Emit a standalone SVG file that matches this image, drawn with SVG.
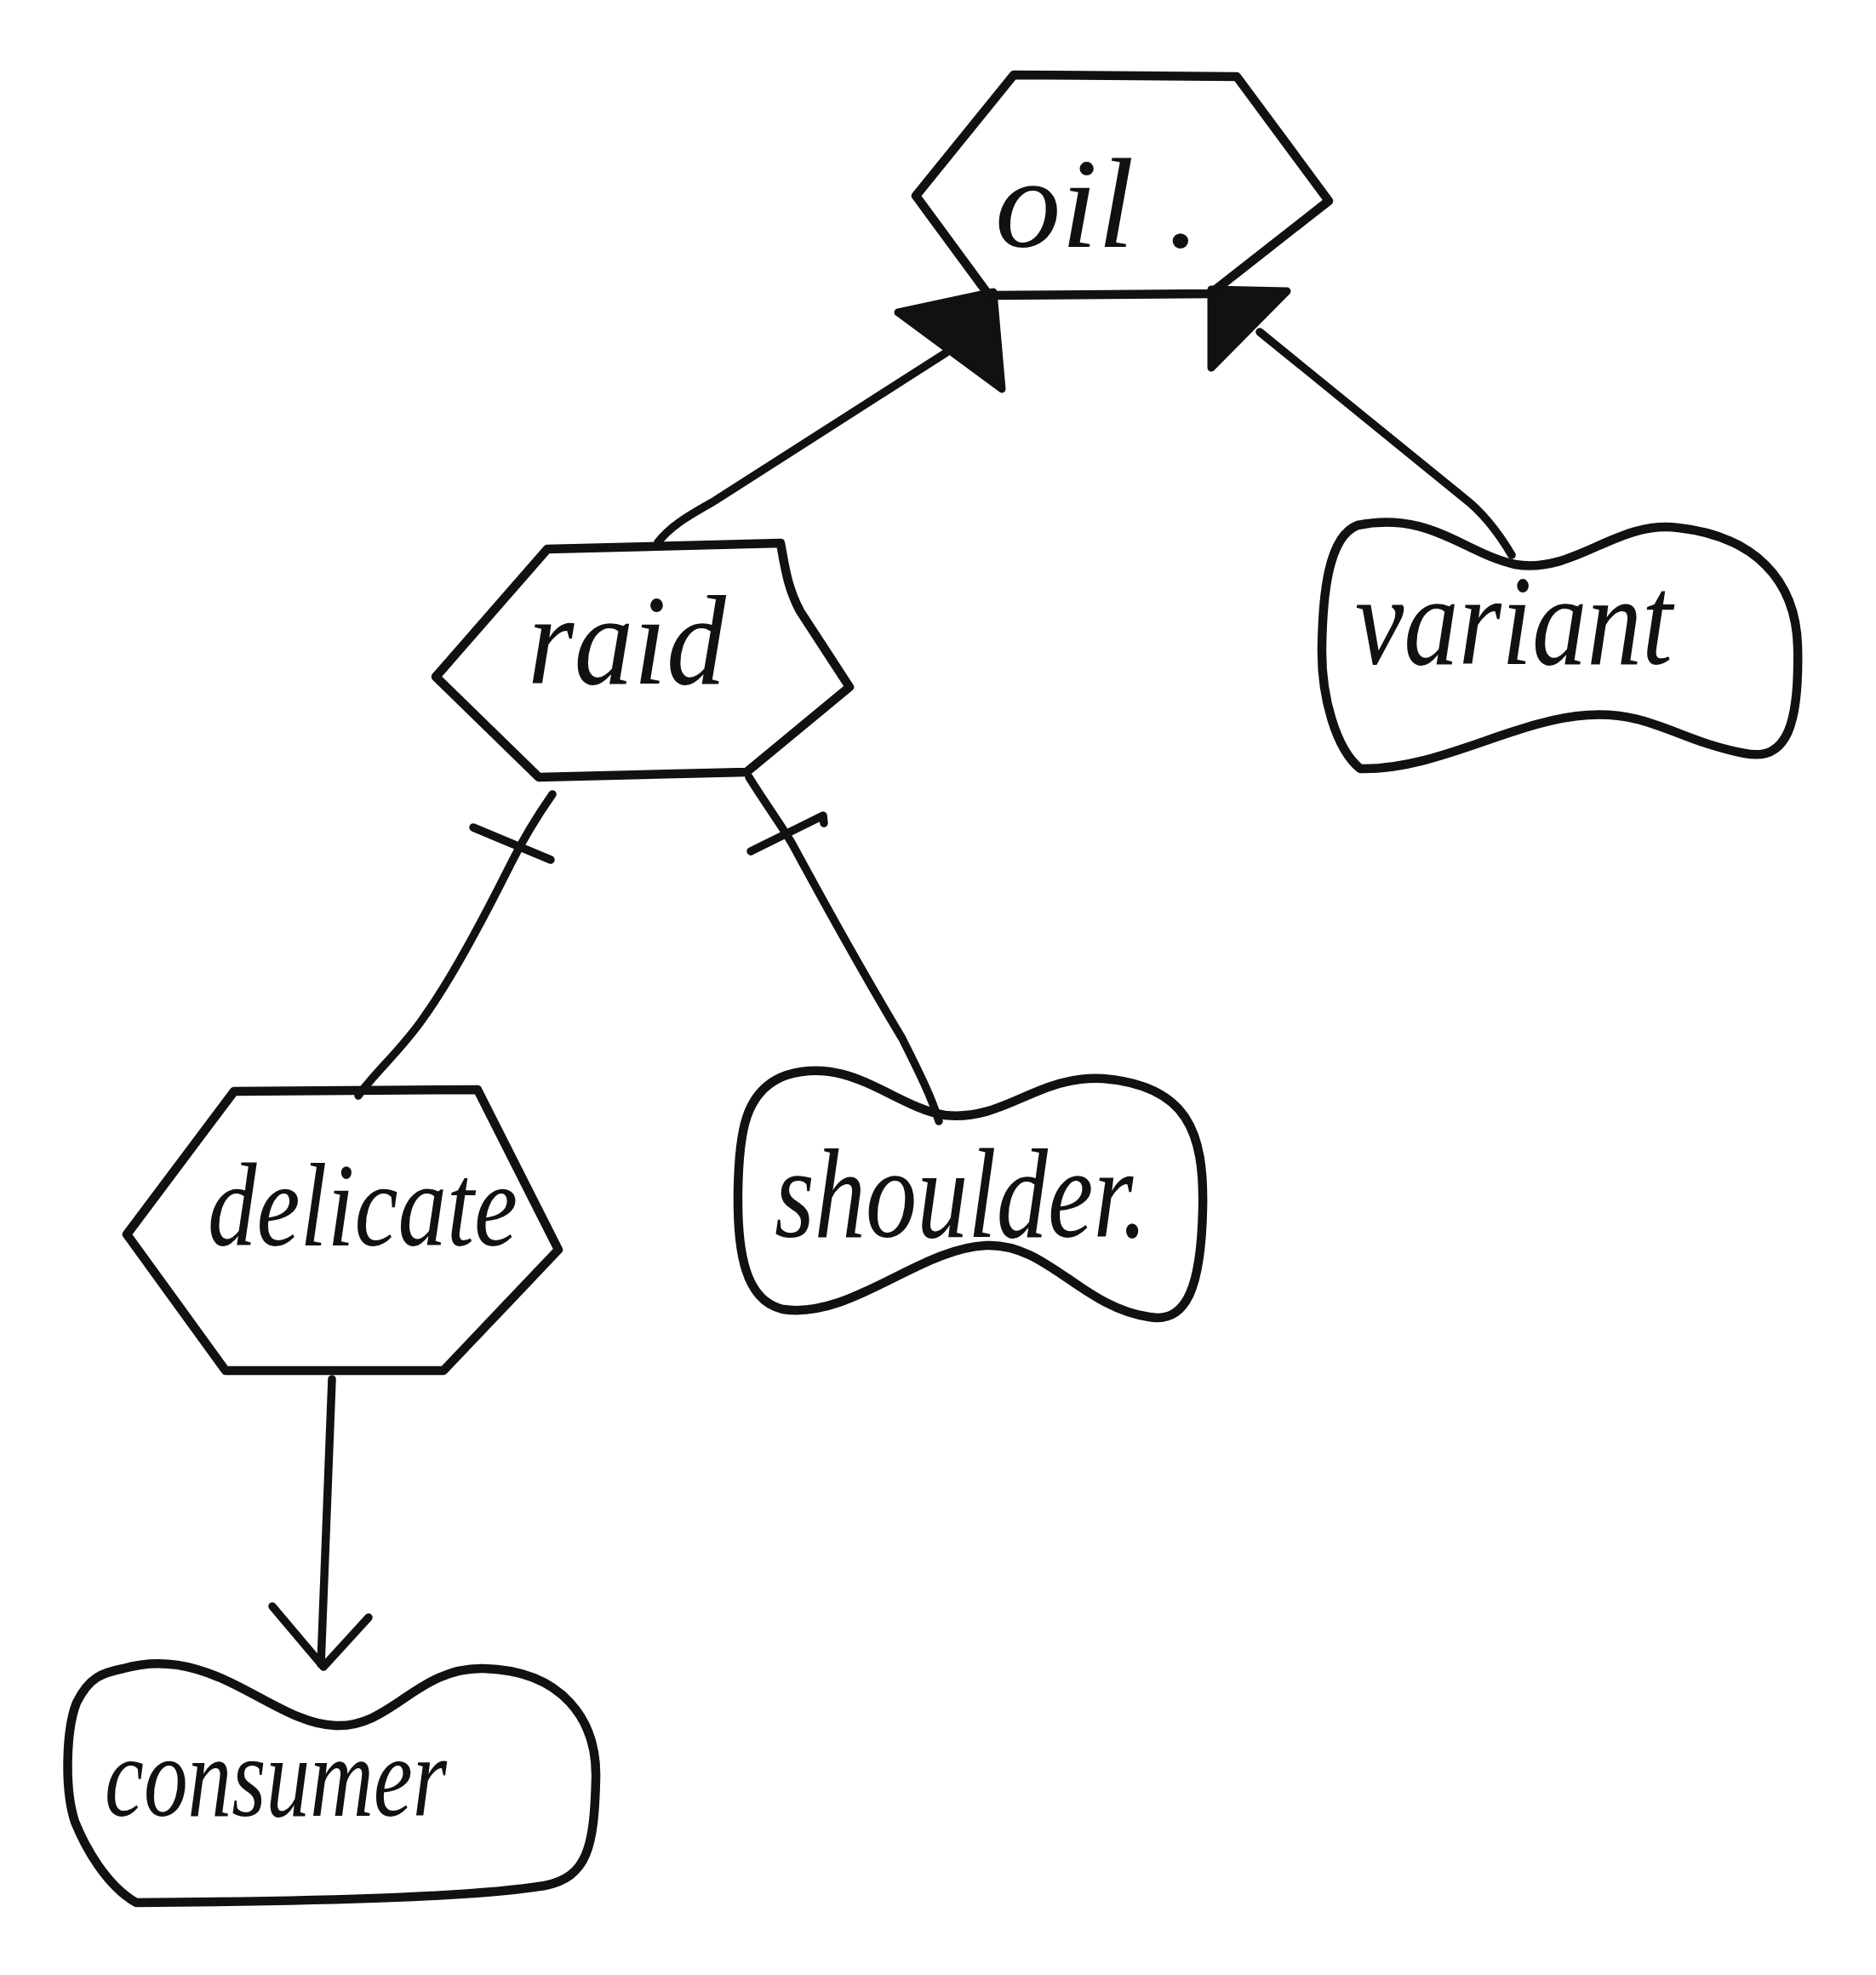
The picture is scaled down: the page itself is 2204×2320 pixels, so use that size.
<svg xmlns="http://www.w3.org/2000/svg" width="2204" height="2320" viewBox="0 0 2204 2320">
<style>
.shape{fill:none;stroke:#111;stroke-width:10.5;stroke-linejoin:round;stroke-linecap:round}
.edge{fill:none;stroke:#111;stroke-width:9.5;stroke-linejoin:round;stroke-linecap:round}
.head{fill:#111;stroke:#111;stroke-width:9;stroke-linejoin:round}
.lbl{font-family:"Liberation Serif","DejaVu Serif",serif;font-style:italic;fill:#111}
</style>
<rect width="2204" height="2320" fill="#fff"/>
<g id="connectors">
  <path class="edge" d="M 773 637 C 790 615 815 603 840 588 L 1112 414"/>
  <polygon class="head" points="1055,367 1167,343 1177,457"/>
  <path class="edge" d="M 1776 652 C 1760 625 1742 602 1720 585 L 1480 390"/>
  <polygon class="head" points="1423,340 1512,342 1423,432"/>
  <path class="edge" d="M 649 933 C 630 960 615 985 600 1015 C 570 1075 530 1150 500 1192 C 475 1230 440 1260 421 1287"/>
  <line class="edge" x1="556" y1="972" x2="647" y2="1010"/>
  <path class="edge" d="M 880 913 C 900 945 915 965 930 990 C 960 1045 1000 1120 1060 1220 C 1080 1260 1095 1290 1103 1317"/>
  <path class="edge" d="M 882 1000 L 967 958 L 968 967"/>
  <path class="edge" d="M 390 1620 L 377 1955"/>
  <polyline class="edge" points="320,1887 380,1958 433,1900"/>
</g>
<g id="node-oil">
  <polygon class="shape" points="1076,230 1191,88 1453,90 1561,236 1422,345 1162,347"/>
  <text class="lbl" x="1169" y="290" font-size="150" textLength="241" lengthAdjust="spacingAndGlyphs">oil .</text>
</g>
<g id="node-raid">
  <path class="shape" d="M 512 795 L 643 645 L 917 638 C 922 665 925 690 940 718 L 998 807 L 877 907 L 633 913 Z"/>
  <text class="lbl" x="620" y="803" font-size="150" textLength="233" lengthAdjust="spacingAndGlyphs">raid</text>
</g>
<g id="node-variant">
  <path class="shape" d="M 1595 617 C 1680 600 1720 650 1780 663 C 1850 675 1900 610 1972 620 C 2060 630 2110 680 2112 760 C 2114 850 2100 895 2050 885 C 1970 870 1940 835 1865 840 C 1780 845 1690 905 1598 903 C 1570 880 1552 820 1553 760 C 1554 700 1560 630 1595 617 Z"/>
  <text class="lbl" x="1592" y="780" font-size="150" textLength="373" lengthAdjust="spacingAndGlyphs">variant</text>
</g>
<g id="node-delicate">
  <polygon class="shape" points="149,1450 275,1282 561,1280 656,1468 521,1610 265,1610"/>
  <text class="lbl" x="244" y="1463" font-size="140" textLength="364" lengthAdjust="spacingAndGlyphs">delicate</text>
</g>
<g id="node-shoulder">
  <path class="shape" d="M 924 1263 C 1000 1240 1050 1300 1110 1310 C 1180 1318 1220 1262 1296 1267 C 1395 1275 1415 1330 1413 1420 C 1411 1510 1395 1555 1350 1547 C 1270 1535 1230 1460 1159 1463 C 1080 1466 1000 1550 920 1538 C 875 1528 866 1470 867 1400 C 868 1330 875 1280 924 1263 Z"/>
  <text class="lbl" x="910" y="1453" font-size="150" textLength="438" lengthAdjust="spacingAndGlyphs">shoulder.</text>
</g>
<g id="node-consumer">
  <path class="shape" d="M 145 1960 C 250 1930 320 2025 394 2027 C 460 2030 490 1958 568 1960 C 660 1962 702 2020 700 2090 C 698 2170 690 2205 640 2215 C 560 2228 400 2233 160 2235 C 125 2215 100 2170 88 2140 C 75 2100 78 2030 90 2000 C 105 1970 120 1965 145 1960 Z"/>
  <text class="lbl" x="123" y="2133" font-size="135" textLength="402" lengthAdjust="spacingAndGlyphs">consumer</text>
</g>
</svg>
